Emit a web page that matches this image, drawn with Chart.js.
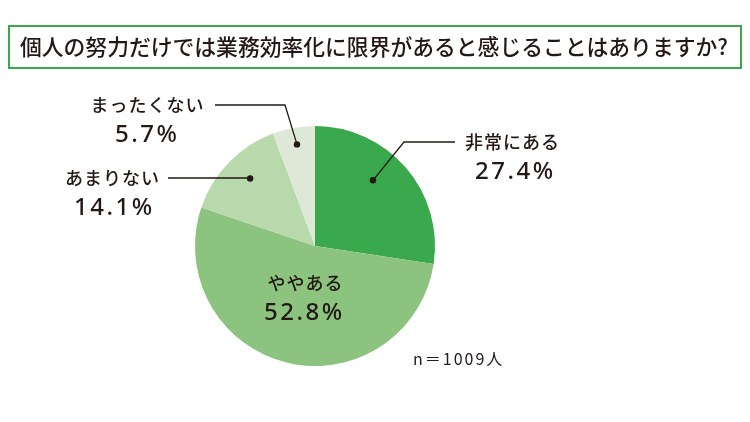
<!DOCTYPE html>
<html>
<head>
<meta charset="utf-8">
<script src="https://cdn.jsdelivr.net/npm/chart.js@4"></script>
<style>
  html, body { margin: 0; padding: 0; background: #fff; }
  #wrap { position: relative; width: 750px; height: 422px; }
</style>
</head>
<body>
<div id="wrap"><canvas id="chart1" width="750" height="422"></canvas></div>
<script>
const titleText = '個人の努力だけでは業務効率化に限界があると感じることはありますか?';
const categories = ['非常にある', 'ややある', 'あまりない', 'まったくない'];
const shares = [27.4, 52.8, 14.1, 5.7];
const sliceColors = ['#3aa84d', '#8cc47f', '#b8d9ac', '#dde9d6'];
const sampleNote = 'n＝1009人';

const ink = '#231815';
const jpFont = '"Noto Sans CJK JP", "Noto Sans", sans-serif';
const numFont = '"Noto Sans", "DejaVu Sans", sans-serif';

// label layout: text centre, elbow of the leader, where the dot sits inside the slice
const callouts = [
    { text: [512, 142], pct: [514, 172], elbow: [404, 142], end: [455, 142], along: 0.42, depth: 0.73 },
    { text: [305, 283], pct: [303, 313] },
    { text: [112, 178], pct: [113, 208], elbow: null, end: [168, 178], along: 0.54, depth: 0.78 },
    { text: [147, 105], pct: [146, 135], elbow: [285, 105], end: [215, 105], along: 0.51, depth: 0.86 }
];

// centred text with letter spacing (the trailing gap is taken back out)
function spaced(c, str, x, y, gap) {
    c.letterSpacing = gap + 'px';
    c.fillText(str, x + gap / 2, y);
    c.letterSpacing = '0px';
}

const overlay = {
    id: 'overlay',
    afterDraw(chart) {
        const c = chart.ctx;
        c.save();

        // title box
        c.strokeStyle = '#3aa84d';
        c.lineWidth = 2;
        c.strokeRect(9, 26, 732, 42);
        c.fillStyle = ink;
        c.font = '500 22px ' + jpFont;
        c.textAlign = 'center';
        c.textBaseline = 'middle';
        c.fillText(titleText, 374, 47, 708);

        const meta = chart.getDatasetMeta(0);
        meta.data.forEach((arc, i) => {
            const co = callouts[i];
            c.fillStyle = ink;
            c.font = '500 18px ' + jpFont;
            spaced(c, categories[i], co.text[0], co.text[1], 1);
            c.font = '500 24px ' + numFont;
            spaced(c, shares[i].toFixed(1) + '%', co.pct[0], co.pct[1], 2.5);

            if (co.along === undefined) return;
            const a = arc.startAngle + (arc.endAngle - arc.startAngle) * co.along;
            const r = arc.outerRadius * co.depth;
            const dx = arc.x + r * Math.cos(a);
            const dy = arc.y + r * Math.sin(a);
            c.strokeStyle = ink;
            c.lineWidth = 1.3;
            c.beginPath();
            c.moveTo(dx, dy);
            if (co.elbow) c.lineTo(co.elbow[0], co.elbow[1]);
            else c.lineTo(dx, co.end[1]);
            c.lineTo(co.end[0], co.end[1]);
            c.stroke();
            c.beginPath();
            c.arc(dx, dy, 3.2, 0, Math.PI * 2);
            c.fill();
        });

        c.font = '16px ' + jpFont;
        c.textAlign = 'left';
        c.letterSpacing = '2px';
        c.fillText(sampleNote, 413, 359);
        c.restore();
    }
};

const ctx = document.getElementById('chart1').getContext('2d');
const pieChart = new Chart(ctx, {
    type: 'pie',
    data: {
        labels: categories,
        datasets: [{
            data: shares,
            backgroundColor: sliceColors,
            borderWidth: 0
        }]
    },
    options: {
        responsive: false,
        animation: false,
        layout: { padding: { left: 195, right: 315, top: 126, bottom: 56 } },
        plugins: {
            legend: { display: false },
            tooltip: { enabled: false }
        }
    },
    plugins: [overlay]
});
</script>
</body>
</html>
